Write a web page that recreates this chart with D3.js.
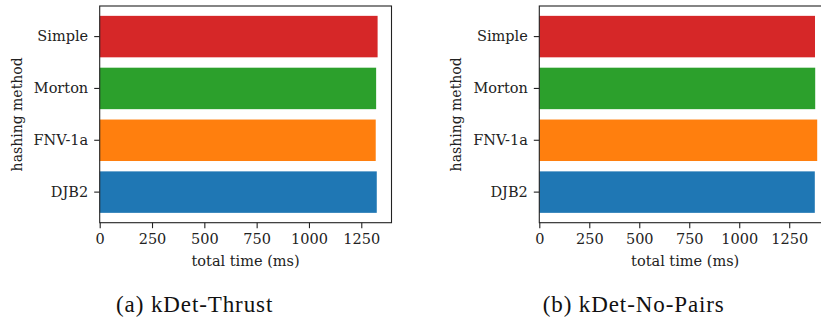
<!DOCTYPE html>
<html>
<head>
<meta charset="utf-8">
<script src="https://cdn.jsdelivr.net/npm/d3@7"></script>
<style>
  body { margin: 0; background: #fff; }
  svg { display: block; }
  .tick text { font-family: "DejaVu Serif", serif; font-size: 14.5px; fill: #222; }
  .axis path, .axis line { stroke: #222; stroke-width: 1.1; }
</style>
</head>
<body>
<svg id="chart" width="821" height="320"></svg>
<script>
// hashing methods, top to bottom
var methods = ["Simple", "Morton", "FNV-1a", "DJB2"];
var colors = ["#d62728", "#2ca02c", "#ff7f0e", "#1f77b4"];
var thrustTimes = [1328, 1321, 1319, 1324];
var noPairsTimes = [1379, 1380, 1390, 1378];
var xTicks = [0, 250, 500, 750, 1000, 1250];
var captions = ["(a) kDet-Thrust", "(b) kDet-No-Pairs"];

var svg = d3.select("#chart");
svg.append("rect").attr("width", 821).attr("height", 320).attr("fill", "#fff");

var width = 291.8, height = 216.7;

function drawPanel(left, top, values, caption, captionX) {
    var g = svg.append("g")
        .attr("transform", `translate(${left},${top})`);

    var x = d3.scaleLinear()
        .domain([0, d3.max(values) * 1.05])
        .range([0, width]);
    var y = d3.scaleBand()
        .domain(methods)
        .range([0, height])
        .paddingInner(0.2)
        .paddingOuter(0.19);

    g.selectAll(".bar")
        .data(methods)
        .enter().append("rect")
        .attr("class", "bar")
        .attr("x", 0)
        .attr("y", d => y(d))
        .attr("width", (d, i) => x(values[i]))
        .attr("height", y.bandwidth())
        .attr("fill", (d, i) => colors[i]);

    // box
    g.append("rect")
        .attr("width", width)
        .attr("height", height)
        .attr("fill", "none")
        .attr("stroke", "#222")
        .attr("stroke-width", 1.1);

    g.append("g")
        .attr("class", "axis")
        .attr("transform", `translate(0,${height})`)
        .call(d3.axisBottom(x).tickValues(xTicks).tickFormat(d3.format("d"))
            .tickSize(5.5).tickPadding(5.5).tickSizeOuter(0))
        .call(a => a.select(".domain").remove());

    g.append("g")
        .attr("class", "axis")
        .call(d3.axisLeft(y).tickSize(5.5).tickPadding(6).tickSizeOuter(0))
        .call(a => a.select(".domain").remove());

    g.append("text")
        .attr("x", width / 2)
        .attr("y", 261 - top + 5)
        .attr("text-anchor", "middle")
        .style("font-family", "DejaVu Serif, serif")
        .style("font-size", "14.5px")
        .attr("fill", "#222")
        .text("total time (ms)");

    g.append("text")
        .attr("transform", `translate(${-78},${height / 2}) rotate(-90)`)
        .attr("text-anchor", "middle")
        .style("font-family", "DejaVu Serif, serif")
        .style("font-size", "14px")
        .attr("fill", "#222")
        .text("hashing method");

    svg.append("text")
        .attr("x", captionX)
        .attr("y", 312)
        .style("font-family", "'Liberation Serif', serif")
        .style("font-size", "23px")
        .style("letter-spacing", "0.9px")
        .attr("fill", "#111")
        .text(caption);
}

drawPanel(99.7, 6, thrustTimes, captions[0], 116);
drawPanel(539.3, 6, noPairsTimes, captions[1], 542.7);
</script>
</body>
</html>
